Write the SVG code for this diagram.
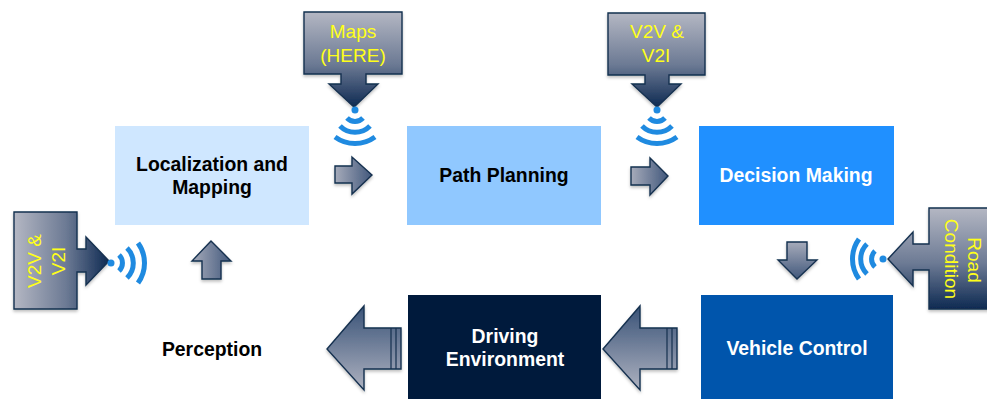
<svg xmlns="http://www.w3.org/2000/svg" width="987" height="399" viewBox="0 0 987 399">
<defs>
<linearGradient id="gDown" x1="0" y1="0" x2="0" y2="1"><stop offset="0" stop-color="#b4b7c3"/><stop offset="0.55" stop-color="#6c7a94"/><stop offset="1" stop-color="#0e2a52"/></linearGradient>
<linearGradient id="gRight" x1="0" y1="0" x2="1" y2="0"><stop offset="0" stop-color="#b4b7c3"/><stop offset="0.55" stop-color="#6c7a94"/><stop offset="1" stop-color="#0e2a52"/></linearGradient>
<linearGradient id="gSmallR" x1="0" y1="0" x2="1" y2="0"><stop offset="0" stop-color="#a6abba"/><stop offset="1" stop-color="#42587c"/></linearGradient>
<linearGradient id="gSmallD" x1="0" y1="0" x2="0" y2="1"><stop offset="0" stop-color="#a6abba"/><stop offset="1" stop-color="#42587c"/></linearGradient>
<linearGradient id="gBig" x1="0" y1="0" x2="0" y2="1"><stop offset="0" stop-color="#3a5378"/><stop offset="1" stop-color="#aeb2c0"/></linearGradient>
<filter id="sh" x="-15%" y="-15%" width="130%" height="130%"><feDropShadow dx="0" dy="2" stdDeviation="1.5" flood-color="#000" flood-opacity="0.25"/></filter>
</defs>
<style>
.box{stroke:none}
.lab{font-family:"Liberation Sans",Arial,sans-serif;font-weight:700;font-size:19.4px;text-anchor:middle}
.yel{font-family:"Liberation Sans",Arial,sans-serif;font-size:19px;text-anchor:middle;fill:#ffff19}
.arr{stroke:#14304f;stroke-width:1.4;stroke-linejoin:miter;filter:url(#sh)}
.wave{fill:none;stroke:#1f8ae0;stroke-width:5}
.dot{fill:#1f8ae0}
.rib{fill:none;stroke:#14304f;stroke-width:1.2}
</style>
<g id="connectors">
<path class="arr" fill="url(#gSmallR)" d="M335 166H352V157L372 175L352 194V183H335Z"/>
<path class="arr" fill="url(#gSmallR)" d="M631 167H650V158L668 176L650 195V185H631Z"/>
<path class="arr" fill="url(#gSmallR)" d="M202 279V261H192L211 241L231 261H221V279Z"/>
<path class="arr" fill="url(#gSmallD)" d="M787 242H807V260H817L797 279L778 260H787Z"/>
<g id="arrow-perception">
<path class="arr" fill="url(#gBig)" d="M401 328H364V306L327 349L364 390V369H401Z"/>
<path class="rib" d="M391 328V369M396 328V369"/>
</g>
<g id="arrow-driving">
<path class="arr" fill="url(#gBig)" d="M677 328H640V306L603 349L640 390V369H677Z"/>
<path class="rib" d="M667 328V369M672 328V369"/>
</g>
</g>
<g id="node-localization">
<rect class="box" x="115" y="126" width="194" height="99" fill="#cfe7ff"/>
<text class="lab" x="212" y="170.5">Localization and</text>
<text class="lab" x="212" y="194">Mapping</text>
</g>
<g id="node-path-planning">
<rect class="box" x="407" y="126" width="194" height="99" fill="#90c8ff"/>
<text class="lab" x="504" y="182">Path Planning</text>
</g>
<g id="node-decision-making">
<rect class="box" x="699" y="126" width="195" height="99" fill="#2090ff"/>
<text class="lab" x="796" y="182" fill="#fff">Decision Making</text>
</g>
<g id="node-vehicle-control">
<rect class="box" x="701" y="295" width="192" height="104" fill="#0055ac"/>
<text class="lab" x="797" y="354.5" fill="#fff">Vehicle Control</text>
</g>
<g id="node-driving-environment">
<rect class="box" x="408" y="295" width="193" height="104" fill="#001a3c"/>
<text class="lab" x="505" y="343" fill="#fff">Driving</text>
<text class="lab" x="505" y="366" fill="#fff">Environment</text>
</g>
<g id="node-perception">
<text class="lab" x="212" y="355.5">Perception</text>
</g>
<g id="node-maps">
<path class="arr" fill="url(#gDown)" d="M304 12H402V74H366V84H378L354 107L329 84H341V74H304Z"/>
<text class="yel" x="353" y="38">Maps</text>
<text class="yel" x="353" y="62">(HERE)</text>
<circle class="dot" cx="355" cy="110" r="3.5"/>
<path class="wave" d="M347 118A11 11 0 0 0 363 118M340 126A21 21 0 0 0 370 126M335 137A34 34 0 0 0 375 137"/>
</g>
<g id="node-v2v-top">
<path class="arr" fill="url(#gDown)" d="M608 13H705V75H669V84H681L657 107L632 84H645V75H608Z"/>
<text class="yel" x="657" y="38">V2V &amp;</text>
<text class="yel" x="656" y="62">V2I</text>
<circle class="dot" cx="657" cy="110" r="3.5"/>
<path class="wave" d="M649 118A11 11 0 0 0 665 118M642 126A21 21 0 0 0 672 126M637 137A34 34 0 0 0 677 137"/>
</g>
<g id="node-v2v-left">
<path class="arr" fill="url(#gRight)" d="M14 212H77V249H86V237L109 261L86 285V272H77V309H14Z"/>
<text class="yel" transform="translate(41 261) rotate(-90)">V2V &amp;</text>
<text class="yel" transform="translate(65 261) rotate(-90)">V2I</text>
<circle class="dot" cx="111" cy="263" r="3.5"/>
<path class="wave" d="M119 255A11 11 0 0 1 119 271M127 248A21 21 0 0 1 127 278M138 243A34 34 0 0 1 138 283"/>
</g>
<g id="node-road-condition">
<path class="arr" fill="url(#gDown)" d="M929 208H990V309H929V270H913V286L888 259L913 232V244H929Z"/>
<text class="yel" transform="translate(968 260) rotate(90)">Road</text>
<text class="yel" transform="translate(945 259) rotate(90)">Condition</text>
<circle class="dot" cx="883" cy="259" r="3.5"/>
<path class="wave" d="M875 251A11 11 0 0 0 875 267M867 244A21 21 0 0 0 867 274M859 239A34 34 0 0 0 859 279"/>
</g>
</svg>
